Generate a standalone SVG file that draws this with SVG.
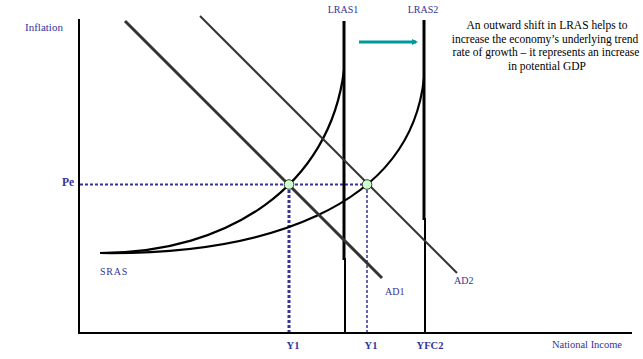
<svg xmlns="http://www.w3.org/2000/svg" width="643" height="359" viewBox="0 0 643 359" font-family="'Liberation Serif', 'Times New Roman', serif">
<style>
  text { font-family: "Liberation Serif", "Times New Roman", serif; }
  .lbl { fill: #333399; font-size: 10px; }
  .bold { fill: #333399; font-size: 10.5px; font-weight: bold; }
  .note { fill: #000; font-size: 11.5px; text-anchor: middle; }
  .axis { stroke: #000; stroke-width: 2; fill: none; }
  .curve { stroke: #000; stroke-width: 2.2; fill: none; }
  .dot { stroke: #333399; fill: none; stroke-dasharray: 3 2; }
  .pt { fill: #ccffcc; stroke: #000; stroke-width: 0.75; }
</style>
<defs>
  <marker id="ah" markerWidth="6" markerHeight="6" refX="4" refY="3" orient="auto" markerUnits="userSpaceOnUse">
    <path d="M0,0 L6,3 L0,6 Z" fill="#009999"/>
  </marker>
</defs>
<rect width="643" height="359" fill="#fff"/>
<g id="axes">
  <line class="axis" x1="79" y1="19" x2="79" y2="333"/>
  <line class="axis" x1="78" y1="333" x2="632" y2="333"/>
  <text class="lbl" x="25" y="31" style="font-size:11px">Inflation</text>
  <text class="lbl" x="552" y="348" textLength="70" lengthAdjust="spacingAndGlyphs">National Income</text>
</g>
<g id="connectors">
  <line class="dot" x1="80" y1="184.5" x2="367" y2="184.5" stroke-width="2"/>
  <line class="dot" x1="289" y1="185" x2="289" y2="332" stroke-width="3"/>
  <line class="dot" x1="367" y1="185" x2="367" y2="332" stroke-width="1.5"/>
  <line x1="359" y1="42" x2="416" y2="42" stroke="#009999" stroke-width="3" marker-end="url(#ah)"/>
</g>
<g id="LRAS1">
  <line x1="344" y1="21" x2="344" y2="260" stroke="#000" stroke-width="3"/>
  <line x1="345" y1="258" x2="345" y2="333" stroke="#000" stroke-width="2"/>
  <text class="lbl" x="343" y="13" text-anchor="middle">LRAS1</text>
</g>
<g id="LRAS2">
  <line x1="424" y1="20" x2="424" y2="220" stroke="#000" stroke-width="3"/>
  <line x1="425" y1="218" x2="425" y2="333" stroke="#000" stroke-width="2"/>
  <text class="lbl" x="423" y="13" text-anchor="middle">LRAS2</text>
</g>
<g id="SRAS1">
  <path class="curve" d="M100,253 C230,253 330,185 344,70"/>
  <text class="lbl" x="100" y="275" letter-spacing="0.8">SRAS</text>
</g>
<g id="SRAS2">
  <path class="curve" d="M100,253 C260,255 410,210 424,78"/>
</g>
<g id="AD1">
  <line x1="125" y1="21" x2="382" y2="278" stroke="#333" stroke-width="3"/>
  <text class="lbl" x="385" y="295">AD1</text>
</g>
<g id="AD2">
  <line x1="200" y1="16" x2="457" y2="273" stroke="#333" stroke-width="2"/>
  <text class="lbl" x="454" y="284">AD2</text>
</g>
<g id="points">
  <circle class="pt" cx="289" cy="184.5" r="4.8"/>
  <circle class="pt" cx="367" cy="184.5" r="4.8"/>
</g>
<g id="labels">
  <text class="bold" x="62" y="186" style="font-size:11.5px">Pe</text>
  <text class="bold" x="293" y="349" text-anchor="middle">Y1</text>
  <text class="bold" x="371" y="349" text-anchor="middle">Y1</text>
  <text class="bold" x="430" y="349" text-anchor="middle">YFC2</text>
</g>
<g id="note">
  <text class="note" x="547" y="29">An outward shift in LRAS helps to</text>
  <text class="note" x="545" y="43">increase the economy’s underlying trend</text>
  <text class="note" x="546" y="56">rate of growth – it represents an increase</text>
  <text class="note" x="547" y="70">in potential GDP</text>
</g>
</svg>
